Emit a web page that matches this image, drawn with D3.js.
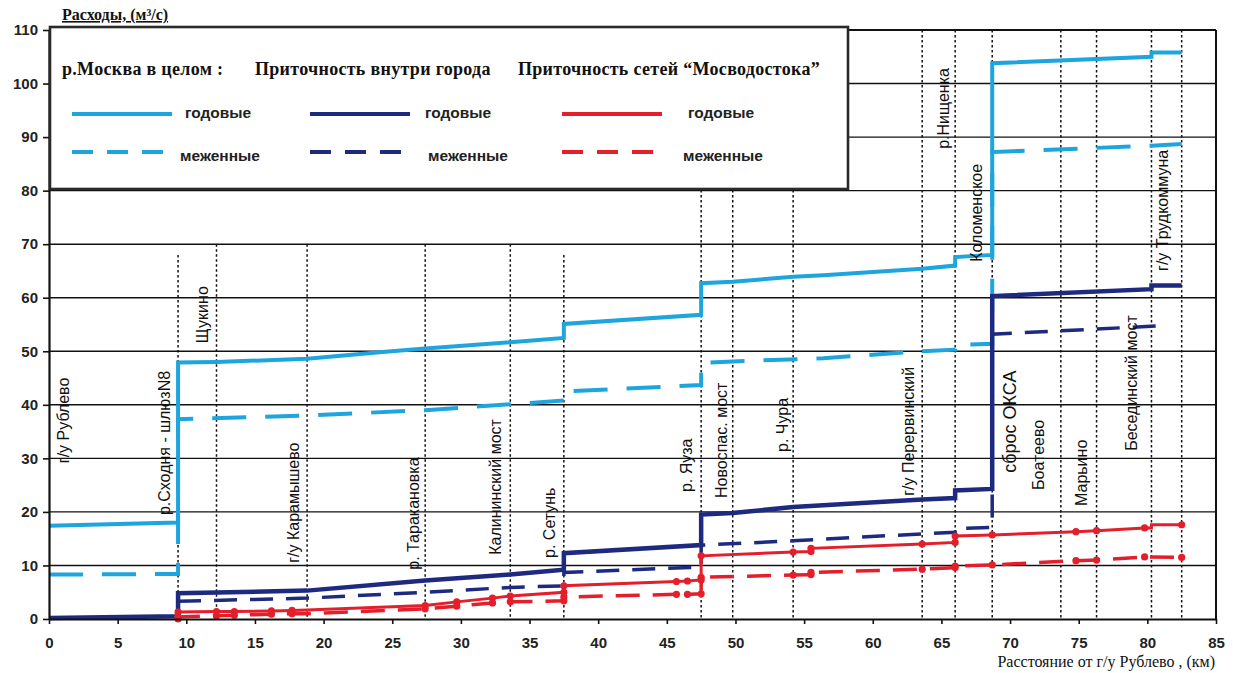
<!DOCTYPE html>
<html>
<head>
<meta charset="utf-8">
<script src="https://cdn.jsdelivr.net/npm/d3@7"></script>
<style>
  html, body { margin: 0; padding: 0; background: #fff; }
  svg { display: block; }
</style>
</head>
<body>
<svg id="chart" width="1233" height="673"></svg>
<script>
// ---- data: distance from Rublevo (km) and discharge (m3/s) ----
// river as a whole, annual / low-water
const riverAnnual = [[0,17.4],[9.4,18.0],[9.4,47.9],[12.2,48.0],[18.8,48.6],[24.5,49.9],[27.4,50.5],[33.6,51.7],[37.5,52.5],[37.5,55.1],[47.5,56.8],[47.5,62.7],[49.8,63.0],[54.2,63.9],[56.4,64.2],[63.6,65.4],[66.0,66.0],[66.0,67.6],[68.7,68.0],[68.7,103.8],[80.3,105.0],[80.3,105.8],[82.5,105.8]];
const riverLow = [[0,8.3],[9.4,8.4],[9.4,37.3],[18.8,38.0],[27.4,39.0],[33.6,40.1],[37.5,40.8],[37.5,42.5],[47.5,43.7],[47.5,47.8],[49.8,48.1],[56.4,48.7],[63.6,50.0],[66.0,50.3],[66.0,51.2],[68.7,51.4],[68.7,87.2],[80.3,88.4],[82.5,88.7]];
// inflow inside the city, annual / low-water
const cityAnnual = [[0,0.2],[9.4,0.5],[9.4,4.8],[18.8,5.3],[27.4,7.2],[33.6,8.3],[37.5,9.2],[37.5,12.3],[47.5,13.8],[47.5,19.5],[49.8,19.8],[54.2,20.9],[63.6,22.3],[66.0,22.6],[66.0,24.0],[68.7,24.3],[68.7,60.3],[80.3,61.6],[80.3,62.3],[82.5,62.3]];
const cityLow = [[9.4,3.3],[18.8,3.9],[27.4,5.0],[33.6,5.9],[37.5,6.2],[37.5,8.7],[47.5,9.7],[47.5,13.8],[54.2,14.6],[63.6,15.9],[66.0,16.2],[66.0,16.9],[68.7,17.1],[68.7,53.2],[81.4,54.8]];
// inflow of the Mosvodostok sewer network, annual / low-water
const mosAnnual = [[9.4,0.2],[9.4,1.3],[12.2,1.4],[13.5,1.4],[16.2,1.5],[17.7,1.6],[18.8,1.7],[27.4,2.5],[29.7,3.2],[32.3,3.9],[33.6,4.3],[37.5,5.0],[37.5,6.2],[45.7,7.0],[46.5,7.1],[47.5,7.3],[47.5,11.8],[54.2,12.5],[55.5,12.6],[55.5,13.2],[63.6,14.0],[66.0,14.3],[66.0,15.5],[68.7,15.7],[74.8,16.3],[76.3,16.5],[79.8,17.0],[80.3,17.0],[80.3,17.6],[82.5,17.6]];
const mosLow = [[9.4,0.0],[9.4,0.4],[12.2,0.6],[13.5,0.7],[16.2,0.9],[17.7,1.0],[18.8,1.0],[27.4,1.9],[29.7,2.4],[32.3,3.0],[33.6,3.2],[37.5,3.4],[37.5,4.1],[45.7,4.6],[46.5,4.6],[47.5,4.7],[47.5,7.8],[54.2,8.2],[55.5,8.3],[55.5,8.7],[63.6,9.3],[66.0,9.6],[66.0,9.9],[68.7,10.1],[74.8,10.9],[76.3,11.0],[79.8,11.6],[82.5,11.5]];
// outlet points marked on the sewer-network curves
const mosMarkerKm = [9.4,12.2,13.5,16.2,17.7,27.4,29.7,32.3,33.6,37.5,45.7,46.5,47.5,54.2,55.5,63.6,66.0,68.7,74.8,76.3,79.8,82.5];

// landmarks along the river
const landmarkNames = ["г/у Рублево","р.Сходня - шлюзN8","Щукино","г/у Карамышево","р. Таракановка","Калининский мост","р. Сетунь","р. Яуза","Новоспас. мост","р. Чура","г/у Перервинский","р.Нищенка","Коломенское","сброс ОКСА","Боатеево","Марьино","Бесединский мост","г/у Трудкоммуна"];
const landmarkKm    = [0, 9.4, 12.2, 18.8, 27.4, 33.6, 37.5, 47.5, 49.8, 54.2, 63.6, 66.0, 68.7, 68.7, 73.7, 76.3, 80.3, 82.5];
// discharge level where each label text begins
const landmarkLabelFrom = [29.1, 19.4, 51.5, 10.5, 9.2, 12.0, 11.4, 23.7, 22.6, 31.2, 23.0, 87.8, 66.7, 27.3, 24.1, 21.1, 31.4, 65.0];
// dotted guide lines: km and upper end (m3/s)
const guideKm  = [9.4, 12.2, 18.8, 27.4, 33.6, 37.5, 47.5, 49.8, 54.2, 63.6, 66.0, 68.7, 73.7, 76.3, 80.3, 82.5];
const guideTop = [68, 70, 70, 70, 70, 68, 110, 110, 110, 110, 110, 110, 110, 110, 110, 110];

const xTicks = d3.range(0, 86, 5);
const yTicks = d3.range(0, 111, 10);

// ---- layout ----
const labelShift = [20, -8, -8, -8, -6, -9, -9, -9, -6, -5, -8, -6, -10, 24, -17, -10, -14, -14];
const svg = d3.select("#chart");
const x = d3.scaleLinear().domain([0, 85]).range([49, 1216]);
const y = d3.scaleLinear().domain([0, 110]).range([619, 30]);

const C_LIGHT = "#1fa5dd", C_DARK = "#1d2a80", C_RED = "#e41f2b";
const sans = "'Liberation Sans', Arial, sans-serif";
const serif = "'Liberation Serif', 'Times New Roman', serif";

// horizontal grid
svg.append("g").selectAll("line").data(yTicks.filter(v => v > 0))
  .join("line")
  .attr("x1", x(0)).attr("x2", x(85))
  .attr("y1", d => y(d)).attr("y2", d => y(d))
  .attr("stroke", "#111").attr("stroke-width", 1.4);

// dotted landmark lines
svg.append("g").selectAll("line").data(guideKm)
  .join("line")
  .attr("x1", d => x(d)).attr("x2", d => x(d))
  .attr("y1", (d, i) => y(guideTop[i])).attr("y2", y(0))
  .attr("stroke", "#111").attr("stroke-width", 1.5)
  .attr("stroke-dasharray", "2.5,2.5");

const line = d3.line().x(d => x(d[0])).y(d => y(d[1]));
function series(data, color, width, dash) {
  svg.append("path").datum(data)
    .attr("d", line)
    .attr("fill", "none")
    .attr("stroke", color)
    .attr("stroke-width", width)
    .attr("stroke-linejoin", "miter")
    .attr("stroke-dasharray", dash || null);
}
series(riverLow, C_LIGHT, 4, "34,19");
series(riverAnnual, C_LIGHT, 4);
series(cityLow, C_DARK, 3.5, "23,13");
series(cityAnnual, C_DARK, 4.5);
series(mosLow, C_RED, 3.5, "24,13");
series(mosAnnual, C_RED, 3);

// outlet markers
function markers(data) {
  svg.append("g").selectAll("circle")
    .data(data.filter(d => mosMarkerKm.includes(d[0])))
    .join("circle")
    .attr("cx", d => x(d[0])).attr("cy", d => y(d[1]))
    .attr("r", 3.6).attr("fill", C_RED);
}
markers(mosLow);
markers(mosAnnual);

// landmark labels (vertical)
svg.append("g").selectAll("text").data(landmarkNames)
  .join("text")
  .attr("transform", (d, i) => `translate(${x(landmarkKm[i]) + labelShift[i]},${y(landmarkLabelFrom[i])}) rotate(-90)`)
  .attr("font-family", sans)
  .attr("font-size", (d, i) => d === "сброс ОКСА" ? 18 : 16)
  .attr("fill", "#111")
  .text(d => d);

// axes
const yAxis = svg.append("g").attr("transform", `translate(${x(0)},0)`)
  .call(d3.axisLeft(y).tickValues(yTicks).tickSize(6).tickPadding(5).tickSizeOuter(0));
const xAxis = svg.append("g").attr("transform", `translate(0,${y(0)})`)
  .call(d3.axisBottom(x).tickValues(xTicks).tickSize(5).tickPadding(13).tickSizeOuter(0));
[yAxis, xAxis].forEach(g => {
  g.select(".domain").attr("stroke", "#111").attr("stroke-width", 2.2);
  g.selectAll(".tick line").attr("stroke", "#111").attr("stroke-width", 1.6);
  g.selectAll(".tick text").attr("font-family", sans).attr("font-weight", "bold")
    .attr("font-size", 15).attr("fill", "#222");
});
// frame: top and right
svg.append("line").attr("x1", x(0)).attr("x2", x(85)).attr("y1", y(110)).attr("y2", y(110))
  .attr("stroke", "#111").attr("stroke-width", 2);
svg.append("line").attr("x1", x(85)).attr("x2", x(85)).attr("y1", y(110)).attr("y2", y(0))
  .attr("stroke", "#111").attr("stroke-width", 2);

// legend
const lg = svg.append("g");
lg.append("rect").attr("x", 50).attr("y", 27).attr("width", 798).attr("height", 162)
  .attr("fill", "#fff").attr("stroke", "#2a2a2a").attr("stroke-width", 2.6);
const groups = [
  { title: "р.Москва в целом :", tx: 62, lx: 72, color: C_LIGHT, lab: 185, lab2: 180 },
  { title: "Приточность внутри города", tx: 255, lx: 310, color: C_DARK, lab: 425, lab2: 428 },
  { title: "Приточность сетей “Мосводостока”", tx: 518, lx: 562, color: C_RED, lab: 688, lab2: 683 }
];
groups.forEach(g => {
  lg.append("text").attr("x", g.tx).attr("y", 75).text(g.title)
    .attr("font-family", serif).attr("font-weight", "bold").attr("font-size", 18)
    .attr("letter-spacing", 0.3).attr("fill", "#111");
  lg.append("line").attr("x1", g.lx).attr("x2", g.lx + 100).attr("y1", 114).attr("y2", 114)
    .attr("stroke", g.color).attr("stroke-width", 4);
  lg.append("line").attr("x1", g.lx).attr("x2", g.lx + 91).attr("y1", 152).attr("y2", 152)
    .attr("stroke", g.color).attr("stroke-width", 4).attr("stroke-dasharray", "21,14");
  lg.append("text").attr("x", g.lab).attr("y", 118).text("годовые")
    .attr("font-family", sans).attr("font-weight", "bold").attr("font-size", 15.5).attr("fill", "#222");
  lg.append("text").attr("x", g.lab2).attr("y", 161).text("меженные")
    .attr("font-family", sans).attr("font-weight", "bold").attr("font-size", 15.5).attr("fill", "#222");
});

// axis titles
svg.append("text").attr("x", 62).attr("y", 20).text("Расходы, (м³/с)")
  .attr("font-family", serif).attr("font-weight", "bold").attr("font-size", 16)
  .attr("text-decoration", "underline").attr("fill", "#111");
svg.append("text").attr("x", 1215).attr("y", 667).attr("text-anchor", "end")
  .text("Расстояние от г/у Рублево , (км)")
  .attr("font-family", serif).attr("font-size", 16).attr("fill", "#111");
</script>
</body>
</html>
